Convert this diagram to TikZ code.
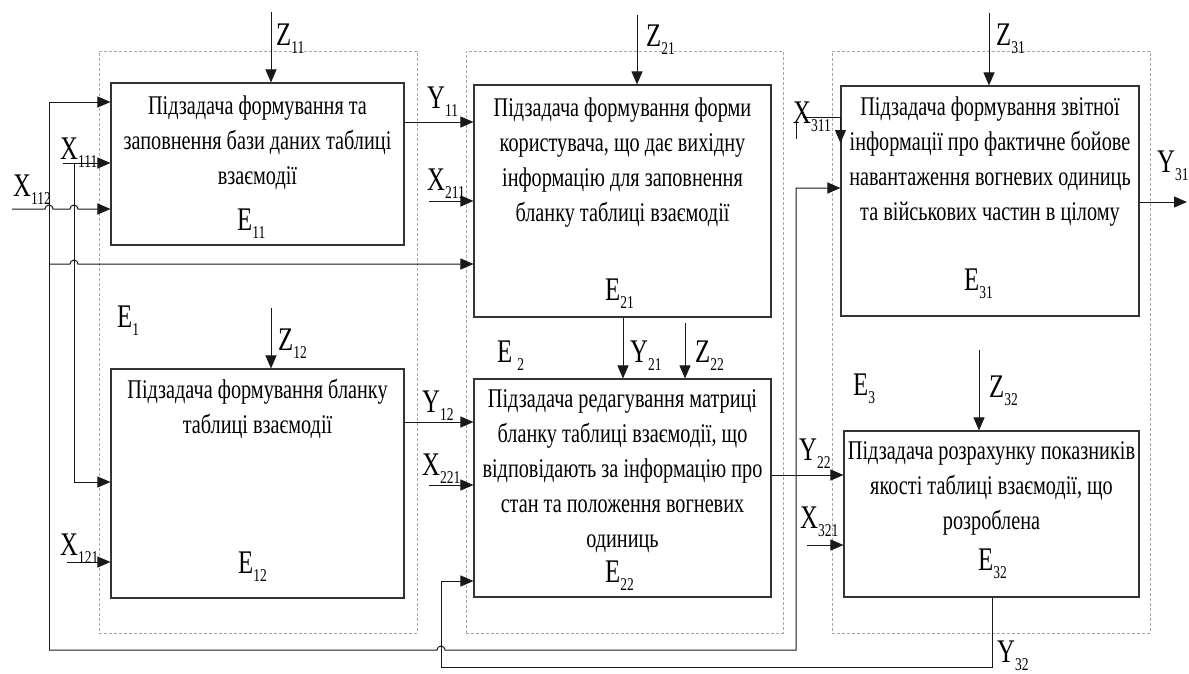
\documentclass[tikz,border=0pt]{standalone}
\usepackage{fontspec}
\setmainfont{Liberation Serif}[FakeStretch=0.75]
\usetikzlibrary{arrows.meta}

% letter with a lowered index, as in X_{111}
\newcommand\idx[2]{#1\raisebox{-8pt}{\fontsize{18}{18}\selectfont #2}}

\begin{document}
\begin{tikzpicture}[x=1pt,y=-1pt,
  box/.style={draw=black!80, line width=1.1pt, inner sep=0},
  region/.style={draw=black!35, dash pattern=on 3pt off 2pt, line width=0.6pt, inner sep=0},
  wire/.style={line width=1pt, draw=black!90},
  arr/.style={wire, -{Triangle[length=13pt,width=11pt]}},
  txt/.style={font=\fontsize{27}{35}\selectfont, align=center, anchor=north, inner sep=0},
  lab/.style={font=\fontsize{33}{33}\selectfont, anchor=base west, inner sep=0},
]
\useasboundingbox (0,0) rectangle (1189,673);

% dashed groups E1, E2, E3
\node[region, minimum width=318pt, minimum height=582pt] (r1) at (258,342) {};
\node[region, minimum width=317pt, minimum height=582pt] (r2) at (624.5,342) {};
\node[region, minimum width=318pt, minimum height=582pt] (r3) at (991,342) {};

% subtask blocks
\node[box, minimum width=293pt, minimum height=162pt] (e11) at (257.5,164) {};
\node[box, minimum width=293pt, minimum height=229pt] (e12) at (257.5,483.5) {};
\node[box, minimum width=297pt, minimum height=232pt] (e21) at (622.5,201) {};
\node[box, minimum width=297pt, minimum height=218pt] (e22) at (622.5,488) {};
\node[box, minimum width=298pt, minimum height=230pt] (e31) at (990,201) {};
\node[box, minimum width=295pt, minimum height=166pt] (e32) at (991.5,514) {};

% block texts
\node[txt] (t11) at (257.5,96) {Підзадача формування та\\заповнення бази даних таблиці\\взаємодії};
\node[txt] (t12) at (257.5,379) {Підзадача формування бланку\\таблиці взаємодії};
\node[txt] (t21) at (622.5,98) {Підзадача формування форми\\користувача, що дає вихідну\\інформацію для заповнення\\бланку таблиці взаємодії};
\node[txt] (t22) at (622.5,389) {Підзадача редагування матриці\\бланку таблиці взаємодії, що\\відповідають за інформацію про\\стан та положення вогневих\\одиниць};
\node[txt] (t31) at (990,97) {Підзадача формування звітної\\інформації про фактичне бойове\\навантаження вогневих одиниць\\та військових частин в цілому};
\node[txt] (t32) at (991.5,441) {Підзадача розрахунку показників\\якості таблиці взаємодії, що\\розроблена};

% block and group names
\node[lab] (n11) at (237,230) {\idx{E}{11}};
\node[lab] (n12) at (238,573) {\idx{E}{12}};
\node[lab] (n21) at (605,300) {\idx{E}{21}};
\node[lab] (n22) at (605,582) {\idx{E}{22}};
\node[lab] (n31) at (964,290) {\idx{E}{31}};
\node[lab] (n32) at (978,570) {\idx{E}{32}};
\node[lab] (g1) at (117,327) {\idx{E}{1}};
\node[lab] (g2) at (497,362) {E\hspace{5pt}\raisebox{-8pt}{\fontsize{18}{18}\selectfont 2}};
\node[lab] (g3) at (853,395) {\idx{E}{3}};

% control inputs Z
\coordinate (z11) at (271,12);
\coordinate (z21) at (637,15);
\coordinate (z31) at (989,13);
\coordinate (z12) at (271,308);
\coordinate (z22) at (685,323);
\coordinate (z32) at (979,350);
\draw[arr] (z11) -- (z11 |- e11.north);
\draw[arr] (z21) -- (z21 |- e21.north);
\draw[arr] (z31) -- (z31 |- e31.north);
\draw[arr] (z12) -- (z12 |- e12.north);
\draw[arr] (z22) -- (z22 |- e22.north);
\draw[arr] (z32) -- (z32 |- e32.north);
\node[lab] at (276,45) {\idx{Z}{11}};
\node[lab] at (646,46) {\idx{Z}{21}};
\node[lab] at (996,45) {\idx{Z}{31}};
\node[lab] at (278,350) {\idx{Z}{12}};
\node[lab] at (695,362) {\idx{Z}{22}};
\node[lab] at (989,397) {\idx{Z}{32}};

% outputs Y
\draw[arr] (e21.south -| 623,0) -- (e22.north -| 623,0);
\draw[arr] (e11.east |- 0,122) -- (e21.west |- 0,122);
\draw[arr] (e12.east |- 0,422) -- (e22.west |- 0,422);
\draw[arr] (e22.east |- 0,475) -- (e32.west |- 0,475);
\coordinate (y31) at (1187,202);
\draw[arr] (e31.east |- y31) -- (y31);
\draw[arr] (e32.south -| 992,0) -- (992,667) -- (441,667) -- (441,581) -- (e22.west |- 0,581);
\node[lab] at (630,362) {\idx{Y}{21}};
\node[lab] at (427,108) {\idx{Y}{11}};
\node[lab] at (422,412) {\idx{Y}{12}};
\node[lab] at (799,460) {\idx{Y}{22}};
\node[lab] at (1157,172) {\idx{Y}{31}};
\node[lab] at (997,662) {\idx{Y}{32}};

% distribution bus on the left
\coordinate (bus) at (49,650);
\draw[arr] (bus) -- (49,102) -- (e11.west |- 0,102);
\draw[arr] (bus) -- (437,650) arc (180:360:4) -- (796,650) -- (796,188) -- (e31.west |- 0,188);
\draw[arr] (49,264) -- (70,264) arc (180:360:4) -- (e21.west |- 0,264);

% external inputs X
\coordinate (x112) at (12,209);
\coordinate (x111) at (63,163);
\coordinate (x121) at (67,562);
\coordinate (x211) at (429,201);
\coordinate (x221) at (429,485);
\coordinate (x321) at (807,545);
\coordinate (x311) at (803,117);
\draw[arr] (x112) -- (45,209) arc (180:360:4) -- (70,209) arc (180:360:4) -- (e11.west |- x112);
\draw[arr] (x111) -- (e11.west |- x111);
\draw[arr] (74,163) -- (74,482) -- (e12.west |- 0,482);
\draw[arr] (x121) -- (e12.west |- x121);
\draw[arr] (x211) -- (e21.west |- x211);
\draw[arr] (x221) -- (e22.west |- x221);
\draw[arr] (x321) -- (e32.west |- x321);
\draw[arr] (x311) -- (e31.west |- x311) -- (e31.west |- 0,143);
\draw[wire] (796,123) -- (796,139);
\node[lab] at (13,196) {\idx{X}{112}};
\node[lab] at (60,159) {\idx{X}{111}};
\node[lab] at (60,555) {\idx{X}{121}};
\node[lab] at (427,190) {\idx{X}{211}};
\node[lab] at (422,475) {\idx{X}{221}};
\node[lab] at (800,528) {\idx{X}{321}};
\node[lab] at (793,123) {\idx{X}{311}};
\end{tikzpicture}
\end{document}
